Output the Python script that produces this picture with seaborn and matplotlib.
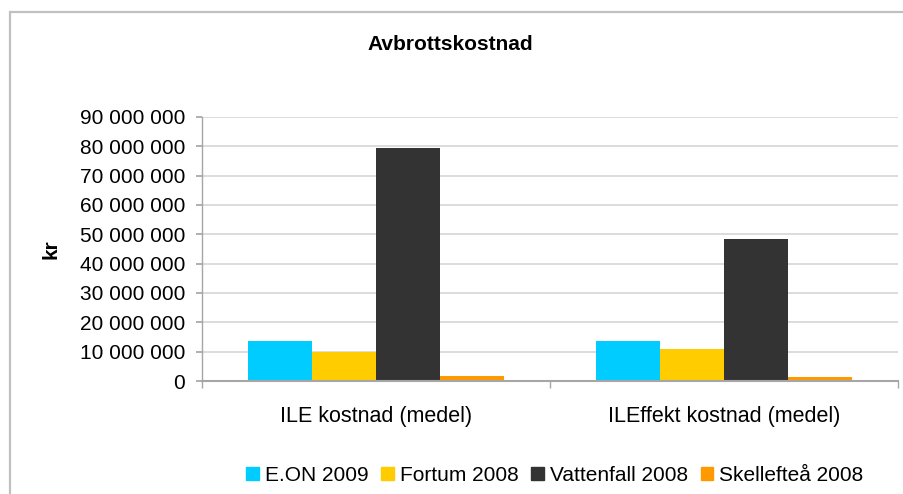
import matplotlib
matplotlib.use("Agg")
import matplotlib.pyplot as plt
import matplotlib.patches as mpatches
from matplotlib.ticker import FuncFormatter, FixedLocator
import seaborn as sns
import pandas as pd

# Data
categories = ['ILE kostnad (medel)', 'ILEffekt kostnad (medel)']
companies = ['E.ON 2009', 'Fortum 2008', 'Vattenfall 2008', 'Skellefteå 2008']
eon = [13_700_000, 13_700_000]
fortum = [10_000_000, 11_000_000]
vattenfall = [79_500_000, 48_300_000]
skelleftea = [1_700_000, 1_400_000]

PALETTE = ['#00CCFF', '#FFCC00', '#333333', '#FF9900']

sns.set_theme(style='white')
plt.rcParams['font.family'] = ['Liberation Sans', 'DejaVu Sans']

rows = []
for comp, vals in zip(companies, [eon, fortum, vattenfall, skelleftea]):
    for cat, v in zip(categories, vals):
        rows.append({'Kategori': cat, 'Bolag': comp, 'kr': v})
df = pd.DataFrame(rows)

fig = plt.figure(figsize=(9.04, 4.94), dpi=100)
ax = fig.add_axes([202 / 904, 1 - 381 / 494, 696 / 904, (381 - 117) / 494])

sns.barplot(
    data=df, x='Kategori', y='kr', hue='Bolag',
    order=categories, hue_order=companies,
    palette=PALETTE, width=0.735, saturation=1,
    linewidth=0, ax=ax, legend=False,
)

ax.set_ylim(0, 90_000_000)
ax.set_xlim(-0.5, 1.5)
ax.yaxis.set_major_locator(FixedLocator(range(0, 90_000_001, 10_000_000)))
ax.yaxis.set_major_formatter(FuncFormatter(lambda v, p: f'{int(v):,}'.replace(',', ' ')))
ax.grid(axis='y', color='#d9d9d9', linewidth=1.3)
ax.set_axisbelow(True)

for side in ['top', 'right']:
    ax.spines[side].set_visible(False)
ax.spines['left'].set_color('#a6a6a6')
ax.spines['bottom'].set_color('#a6a6a6')
ax.spines['left'].set_linewidth(1)
ax.spines['bottom'].set_linewidth(1.5)

ax.tick_params(axis='y', which='major', direction='out', length=4,
               color='#a6a6a6', labelsize=15, pad=8, left=True, labelcolor='black')
ax.tick_params(axis='x', which='major', length=0, labelsize=15.5, pad=18,
               labelcolor='black')
ax.set_xticks([-0.5, 0.5, 1.5], minor=True)
ax.tick_params(axis='x', which='minor', direction='out', length=5,
               color='#a6a6a6', bottom=True)

ax.set_xlabel('')
ax.set_ylabel('kr', fontsize=15, fontweight='bold', color='black')
ax.yaxis.set_label_coords(-0.204, 0.5)

fig.suptitle('Avbrottskostnad', fontsize=15, fontweight='bold', color='black',
             x=450 / 904, y=1 - 45 / 494, va='center')

handles = [mpatches.Patch(color=c, label=n) for c, n in zip(PALETTE, companies)]
fig.legend(handles=handles, loc='center', bbox_to_anchor=(555 / 904, 1 - 475 / 494),
           ncol=4, frameon=False, fontsize=15, handlelength=0.6, handleheight=0.6,
           handletextpad=0.3, columnspacing=0.6, labelcolor='black')

# Chart-area border (cut off at right and bottom as in the reference)
fig.patches.append(mpatches.Rectangle(
    (10 / 904, -0.2), 1.2, (494 - 12) / 494 + 0.2,
    transform=fig.transFigure, fill=False, edgecolor='#c0c0c0', linewidth=1.6))

fig.savefig('out.png', dpi=100)
